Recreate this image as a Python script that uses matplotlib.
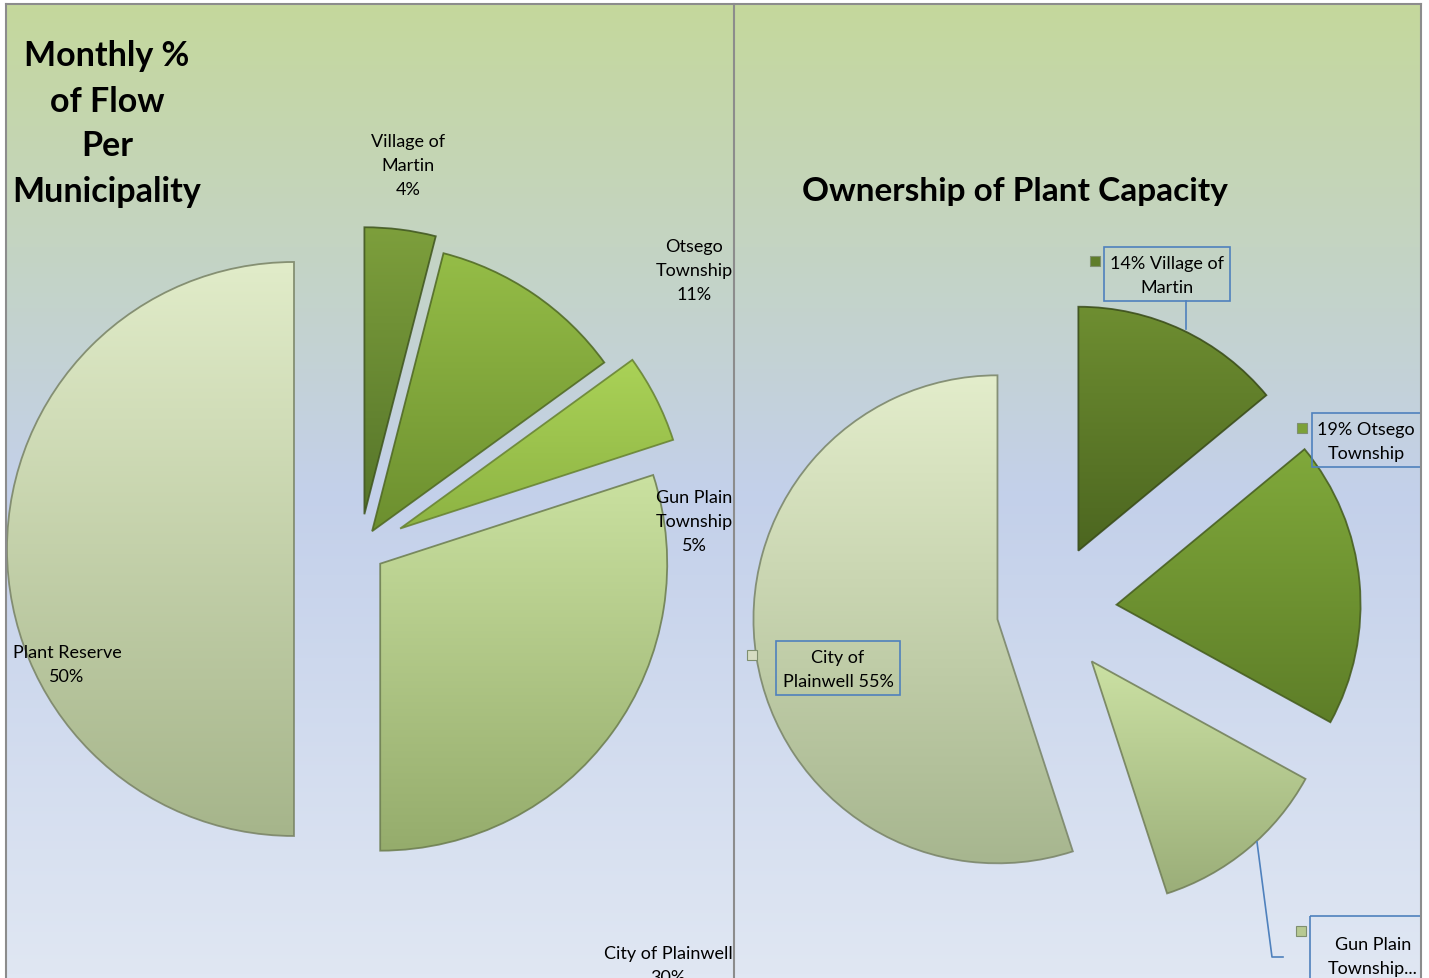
import matplotlib.pyplot as plt
import matplotlib.colors as mcolors
from matplotlib.patches import Rectangle
import numpy as np

# ---- data ----
flow_names = ['Village of\nMartin', 'Otsego\nTownship', 'Gun Plain\nTownship',
              'City of Plainwell', 'Plant Reserve']
flow_pct = [4, 11, 5, 30, 50]
flow_explode = [0.122, 0.075, 0.157, 0.087, 0.23]
flow_top = ['#7d9f3c', '#95bd47', '#aad257', '#cae1a0', '#e1ecc9']
flow_bot = ['#56752a', '#6c8f2f', '#8db343', '#95ac6c', '#a6b58b']

own_names = ['Village of Martin', 'Otsego Township', 'Gun Plain Township', 'City of Plainwell']
own_pct = [14, 19, 12, 55]
own_labels = ['14% Village of\nMartin', '19% Otsego\nTownship', 'Gun Plain\nTownship...',
              'City of\nPlainwell 55%']
own_explode = [0.273, 0.274, 0.268, 0.218]
own_top = ['#6e8e31', '#80a93b', '#cbe1a3', '#e3edcb']
own_bot = ['#4c6620', '#5e7e28', '#9bae79', '#a7b68f']
own_keys = ['#5f7d2a', '#7ca137', '#b7c992', '#d6ddc3']

W, H = 1429, 979
plt.rcParams['font.family'] = ['Lato', 'DejaVu Sans']

fig = plt.figure(figsize=(W / 100, H / 100), dpi=100)
fig.patch.set_facecolor('white')

# background axes in pixel coords
bg = fig.add_axes([0, 0, 1, 1], zorder=0)
bg.set_xlim(0, W)
bg.set_ylim(H, 0)
bg.axis('off')

cmap_bg = mcolors.LinearSegmentedColormap.from_list(
    'bg', [(0, '#c5d89c'), (0.5, '#c3d0ea'), (1, '#e0e7f3')])
grad = np.linspace(0, 1, 256).reshape(-1, 1)
for x0, x1 in [(6, 734), (734, 1421)]:
    bg.imshow(grad, cmap=cmap_bg, extent=[x0, x1, H, 5], aspect='auto')
bg.set_xlim(0, W)
bg.set_ylim(H, 0)


def pie_axes(cx, cy, r, s=1.6):
    ax = fig.add_axes([(cx - s * r) / W, 1 - (cy + s * r) / H, 2 * s * r / W, 2 * s * r / H],
                      zorder=1)
    ax.patch.set_visible(False)
    return ax, s


def shaded_pie(ax, s, vals, explode, tops, bots):
    wedges, _ = ax.pie(vals, explode=explode, startangle=90, counterclock=False)
    for w, ct, cb in zip(wedges, tops, bots):
        ext = w.get_path().get_extents()
        cm = mcolors.LinearSegmentedColormap.from_list('w', [cb, ct])
        im = ax.imshow(grad, cmap=cm, origin='lower', aspect='auto',
                       extent=[ext.x0, ext.x1, ext.y0, ext.y1], zorder=0)
        im.set_clip_path(w)
        edge = np.array(mcolors.to_rgb(cb)) * 0.72
        w.set_facecolor('none')
        w.set_edgecolor(tuple(edge) + (0.85,))
        w.set_linewidth(1.3)
    ax.set_xlim(-s, s)
    ax.set_ylim(-s, s)
    ax.axis('off')
    return wedges


axl, sl = pie_axes(360, 550, 287)
shaded_pie(axl, sl, flow_pct, flow_explode, flow_top, flow_bot)

axr, sr = pie_axes(1050, 612, 244)
shaded_pie(axr, sr, own_pct, own_explode, own_top, own_bot)

# overlay for text, boxes and frame
top = fig.add_axes([0, 0, 1, 1], zorder=3)
top.set_xlim(0, W)
top.set_ylim(H, 0)
top.axis('off')

top.text(107, 124, 'Monthly %\nof Flow\nPer\nMunicipality', ha='center', va='center',
         fontsize=24.5, fontweight='bold', linespacing=1.5)
top.text(1015, 192, 'Ownership of Plant Capacity', ha='center', va='center',
         fontsize=24, fontweight='bold')

flow_pos = [(408, 166), (694, 271), (694, 522), (668, 966), (67, 665)]
for name, pct, (x, y) in zip(flow_names, flow_pct, flow_pos):
    top.text(x, y, '%s\n%d%%' % (name, pct), ha='center', va='center',
             fontsize=13, linespacing=1.6, clip_on=True)

# right pie callout boxes: (x0, y0, x1, y1), key position
boxes = [(1104, 248, 1230, 302), (1312, 414, 1421, 468),
         (1310, 917, 1421, 1000), (776, 642, 900, 696)]
key_pos = [(1095, 262), (1302, 429), (1301, 932), (752, 656)]
text_pos = [(1167, 276), (1366, 442), (1373, 957), (838, 670)]
for lab, (x0, y0, x1, y1), (kx, ky), (tx, ty), kc in zip(own_labels, boxes, key_pos,
                                                          text_pos, own_keys):
    top.add_patch(Rectangle((x0, y0), x1 - x0, y1 - y0, fc='none', ec='#4f81bd', lw=1.2))
    top.add_patch(Rectangle((kx - 5, ky - 5), 10, 10, fc=kc, ec='#7f8f6f', lw=0.8))
    top.text(tx, ty, lab, ha='center', va='center', fontsize=13, linespacing=1.6)

# leader lines
top.plot([1186, 1186], [302, 330], color='#4f81bd', lw=1.2)
top.plot([1257, 1272, 1283], [843, 958, 958], color='#4f81bd', lw=1.2)

# frame
fc = '#8c8c8c'
top.plot([6, 1421], [5, 5], color=fc, lw=1.5)
for x in [6, 734, 1421]:
    top.plot([x, x], [5, H], color=fc, lw=1.5)
top.add_patch(Rectangle((1422, 0), 10, H, fc='white', ec='none'))

fig.savefig('out.png', dpi=100)
